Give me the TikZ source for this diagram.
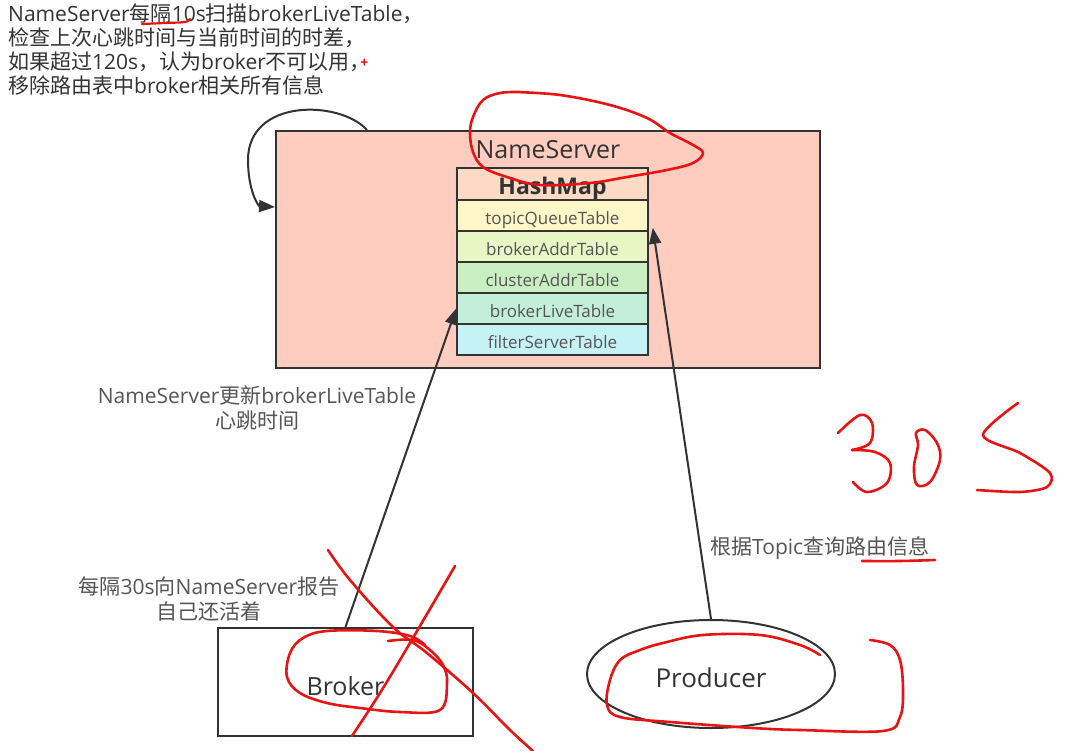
\documentclass[tikz,border=0pt]{standalone}
\usepackage{fontspec}
\setmainfont{Open Sans}
\newfontfamily\cjkf{Noto Sans CJK SC}
\newcommand\zhc[1]{{\cjkf #1}}
\usetikzlibrary{arrows.meta,shapes.geometric,calc}
\definecolor{inkc}{HTML}{333333}
\definecolor{txtc}{HTML}{333333}
\definecolor{lblc}{HTML}{555555}
\definecolor{nsfill}{HTML}{FFCCC0}
\definecolor{rhm}{HTML}{FCDAC4}
\definecolor{rtq}{HTML}{FFF7C8}
\definecolor{rba}{HTML}{E8F6C6}
\definecolor{rca}{HTML}{C9EEC2}
\definecolor{rbl}{HTML}{C2EEDA}
\definecolor{rfs}{HTML}{C6F2F6}
\definecolor{penred}{RGB}{232,20,20}
\tikzset{
  toptxt/.style={anchor=base west, inner sep=0pt, text=txtc, font=\fontsize{21}{24}\selectfont},
  midtxt/.style={anchor=base, inner sep=0pt, text=lblc, font=\fontsize{21}{24}\selectfont},
  bigbox/.style={draw=inkc, line width=2pt, rectangle, inner sep=0pt},
  tabrow/.style={draw=inkc, line width=1.6pt, rectangle, inner sep=0pt, minimum width=191pt, minimum height=31pt,
     text height=22pt, text depth=4pt, text=lblc, font=\fontsize{17}{20}\selectfont},
  arr/.style={draw=inkc, line width=2pt, -{Triangle[length=16pt,width=12pt]}},
  redpen/.style={draw=penred, line width=2.6pt, line cap=round, line join=round}
}
\begin{document}
\begin{tikzpicture}[x=1pt,y=-1pt]
\useasboundingbox (0,0) rectangle (1068,751);
\fill[white] (0,0) rectangle (1068,751);

% NameServer box
\node[bigbox, fill=nsfill, minimum width=544pt, minimum height=237pt] (ns) at (548,249.5) {};
\node[anchor=base, inner sep=0pt, text=txtc, font=\fontsize{25}{28}\selectfont] (nstitle) at (548,159) {NameServer};

% HashMap table
\node[tabrow, fill=rhm, minimum height=32pt, text height=26pt, text depth=4pt, text=txtc,
      font=\fontsize{23}{26}\selectfont\bfseries] (hm) at (552.5,184) {HashMap};
\node[tabrow, fill=rtq] (topic) at (552.5,215.5) {topicQueueTable};
\node[tabrow, fill=rba] (baddr) at (552.5,246.5) {brokerAddrTable};
\node[tabrow, fill=rca] (caddr) at (552.5,277.5) {clusterAddrTable};
\node[tabrow, fill=rbl] (live) at (552.5,308.5) {brokerLiveTable};
\node[tabrow, fill=rfs] (filt) at (552.5,339.5) {filterServerTable};

% Broker and Producer
\node[bigbox, fill=white, minimum width=255pt, minimum height=108pt, text=txtc,
      text height=30pt, text depth=4pt, font=\fontsize{25}{28}\selectfont] (broker) at (345.5,682) {Broker};
\node[ellipse, draw=inkc, line width=2pt, fill=white, minimum width=248pt, minimum height=108pt, inner sep=0pt,
      text=txtc, text height=30pt, text depth=4pt, font=\fontsize{26}{28}\selectfont] (producer) at (711,674) {Producer};

% top text
\node[toptxt] (t1) at (8,22) {NameServer\zhc{每隔}10s\zhc{扫描}brokerLiveTable\zhc{，}};
\node[toptxt] (t2) at (8,46) {\zhc{检查上次心跳时间与当前时间的时差，}};
\node[toptxt] (t3) at (8,70) {\zhc{如果超过}120s\zhc{，认为}broker\zhc{不可以用\makebox[0.5em][l]{，}}{\color{penred}\fontsize{14}{14}\selectfont\bfseries\raisebox{2pt}{+}}};
\node[toptxt] (t4) at (8,94) {\zhc{移除路由表中}broker\zhc{相关所有信息}};

% mid labels
\node[midtxt] (l1a) at (257,403) {NameServer\zhc{更新}brokerLiveTable};
\node[midtxt] (l1b) at (257,428) {\zhc{心跳时间}};
\node[midtxt] (l2a) at (209,594) {\zhc{每隔}30s\zhc{向}NameServer\zhc{报告}};
\node[midtxt] (l2b) at (209,619) {\zhc{自己还活着}};
\node[midtxt, anchor=base west] (l3) at (710,554) {\zhc{根据}Topic\zhc{查询路由信息}};

% connectors
\draw[arr] (broker.north) -- (live.west);
\draw[arr] (producer.north) -- ($(topic.south east)+(4,-4)$);
\coordinate (loopS) at ($(ns.north west)+(92,0)$);
\coordinate (loopE) at ($(ns.north west)+(0,77)$);
\draw[arr] (loopS) .. controls (340,100) and (248,98) .. (248,160)
   .. controls (248,190) and (258,206) .. (loopE);

% red handwriting
\draw[redpen, line width=2.2pt] plot[smooth, tension=0.6] coordinates {(142,24) (165,23) (185,22) (190,19)};
\draw[redpen] plot[smooth, tension=0.6] coordinates {(515,92) (560,95) (610,105) (647,118) (670,133) (693,145) (703,153) (693,163) (667,170) (627,177) (590,183) (540,185) (507,177) (483,167) (473,152) (470,133) (473,117) (483,100) (500,93) (520,92)};
\draw[redpen] plot[smooth, tension=0.6] coordinates {(388,641) (413,640) (430,650) (443,665) (447,683) (440,710) (400,712) (360,708) (327,703) (300,693) (287,677) (290,653) (303,638) (327,631) (377,631) (410,636) (425,645)};
\draw[redpen] plot[smooth, tension=0.6] coordinates {(328,550) (350,580) (393,627) (427,653) (473,693) (510,730) (533,751)};
\draw[redpen] plot[smooth, tension=0.6] coordinates {(455,566) (410,643) (380,693) (352,736)};
\draw[redpen] plot[smooth, tension=0.6] coordinates {(870,640) (890,645) (900,660) (903,690) (900,717) (883,731) (800,730) (753,728) (670,722) (620,717) (607,705) (610,680) (620,660) (640,650) (663,643) (703,635) (760,635) (800,645) (820,655)};
\draw[redpen] plot[smooth, tension=0.6] coordinates {(862,561) (900,561) (935,560)};
% 30S
\draw[redpen] plot[smooth, tension=0.6] coordinates {(838,433) (860,415) (872,423) (870,443) (852,450)};
\draw[redpen] plot[smooth, tension=0.6] coordinates {(852,450) (875,452) (890,463) (887,483) (867,492) (853,482)};
\draw[redpen] plot[smooth cycle, tension=0.6] coordinates {(916,433) (925,430) (937,443) (940,460) (930,482) (917,485) (914,467) (918,445)};
\draw[redpen] plot[smooth, tension=0.5] coordinates {(1018,403) (983,435) (1020,453) (1050,473) (1047,487) (1020,492) (977,490)};
\end{tikzpicture}
\end{document}
